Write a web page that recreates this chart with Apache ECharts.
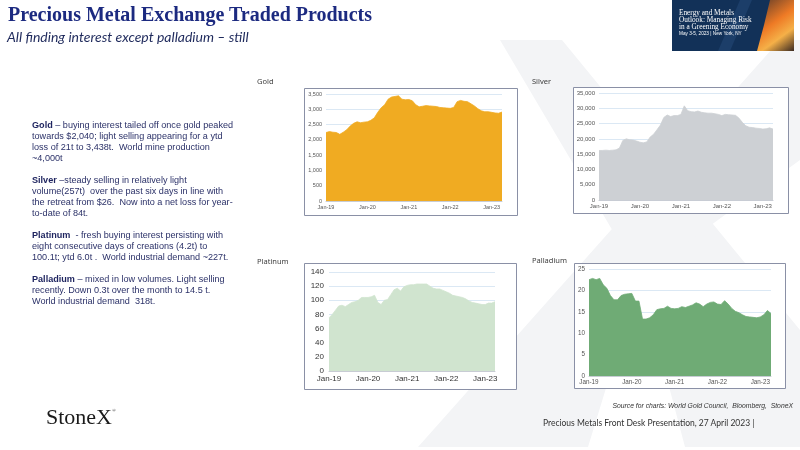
<!DOCTYPE html>
<html>
<head>
<meta charset="utf-8">
<script src="https://cdn.jsdelivr.net/npm/echarts@6/dist/echarts.min.js"></script>
<style>
    body { margin: 0; background: #fff; }
    #slide { position: relative; width: 800px; height: 450px; overflow: hidden; }
    #chart { position: absolute; left: 0; top: 0; width: 800px; height: 450px; }
    .txt { position: absolute; white-space: nowrap; }
    .title { left: 8px; top: 3px; font: bold 20px "Liberation Serif", serif; color: #1c2a80; }
    .sub { left: 7px; top: 28px; font: italic 14px Lato, sans-serif; color: #1f2a5c; }
    .body { left: 32px; top: 120px; font: 9.1px/11px "Liberation Sans", Arial, sans-serif; color: #2b3168; }
    .body b { color: #1f2560; }
    .banner { left: 679px; top: 10px; font: 7.3px/6.8px "Liberation Serif", serif; color: #fff; }
    .banner small { font: 4.7px "Liberation Sans", sans-serif; }
    .logo { left: 46px; top: 404px; font: 22px "Liberation Serif", serif; color: #1a1a1a; }
    .logo sup { font-size: 5px; vertical-align: 12px; }
    .src { right: 7px; top: 402px; font: italic 6.8px "Liberation Sans", sans-serif; color: #333; }
    .pres { left: 543px; top: 418px; font: 8.5px "Liberation Sans Narrow", Lato, sans-serif; color: #333; }
</style>
</head>
<body>
<div id="slide">
    <div id="chart"></div>
    <div class="txt title">Precious Metal Exchange Traded Products</div>
    <div class="txt sub">All finding interest except palladium – still</div>
    <div class="txt body">
        <b>Gold</b> – buying interest tailed off once gold peaked<br>
        towards $2,040; light selling appearing for a ytd<br>
        loss of 21t to 3,438t.&nbsp; World mine production<br>
        ~4,000t<br>
        <br>
        <b>Silver</b> –steady selling in relatively light<br>
        volume(257t)&nbsp; over the past six days in line with<br>
        the retreat from $26.&nbsp; Now into a net loss for year-<br>
        to-date of 84t.<br>
        <br>
        <b>Platinum</b>&nbsp; - fresh buying interest persisting with<br>
        eight consecutive days of creations (4.2t) to<br>
        100.1t; ytd 6.0t .&nbsp; World industrial demand ~227t.<br>
        <br>
        <b>Palladium</b> – mixed in low volumes. Light selling<br>
        recently. Down 0.3t over the month to 14.5 t.<br>
        World industrial demand&nbsp; 318t.
    </div>
    <div class="txt banner">
        Energy and Metals<br>Outlook: Managing Risk<br>in a Greening Economy<br><small>May 3-5, 2023 | New York, NY</small>
    </div>
    <div class="txt logo">StoneX<sup>®</sup></div>
    <div class="txt src">Source for charts: World Gold Council,&nbsp; Bloomberg,&nbsp; StoneX</div>
    <div class="txt pres">Precious Metals Front Desk Presentation, 27 April 2023 |</div>
</div>
<script>
/* 月份标签 Jan-19 ... Apr-23 */
var monNames = ['Jan','Feb','Mar','Apr','May','Jun','Jul','Aug','Sep','Oct','Nov','Dec'];
var years = ['19','20','21','22','23'];
var months = [];
years.forEach(function (y) {
    monNames.forEach(function (m) {
        if (months.length < 52) months.push(m + '-' + y);
    });
});

/* ETF 持仓（吨），按月读取 */
var gold = [2240,2270,2250,2240,2180,2250,2330,2450,2540,2590,2560,2580,
            2590,2640,2720,2900,3050,3150,3330,3400,3420,3440,3330,3310,
            3320,3280,3150,3080,3100,3120,3110,3100,3090,3060,3050,3040,
            3030,3060,3250,3290,3260,3250,3180,3110,3020,2950,2920,2920,
            2900,2880,2870,2910];
var silver = [16200,16200,16300,16200,16300,16400,17000,19500,20000,19700,19600,19300,
              18900,18700,19000,20600,21500,23000,24500,27000,27800,27300,27600,27600,
              28000,30800,29200,28900,28800,29100,28700,28500,28400,28400,28200,28000,
              27600,28000,27900,27800,27700,26800,25400,24300,23800,23700,23500,23400,
              23200,23300,23600,23200];
var platinum = [75,80,86,92,93,91,94,97,98,100,104,104,
                104,105,107,97,94,100,101,108,115,117,113,119,
                121,122,122,123,123,123,123,120,117,116,116,114,
                112,110,107,106,105,104,102,99,97,96,95,94,
                94,96,96,98];
var palladium = [22.5,22.8,22.5,22.8,21.3,20.5,18.8,17.8,17.8,18.8,19.1,19.2,
                 19.3,17.5,17.5,13.3,13.3,13.6,14.3,15.5,15.7,15.8,16.3,15.8,
                 15.7,15.8,16.2,16.0,16.3,16.6,17.1,16.8,16.2,16.8,17.2,17.3,
                 16.8,16.7,17.6,16.8,15.8,15.1,14.8,14.3,13.9,13.8,13.7,13.6,
                 13.8,14.3,15.3,14.6];

var names = ['Gold', 'Silver', 'Platinum', 'Palladium'];
var values = [gold, silver, platinum, palladium];
var colors = ['#f0ab22', '#cdd0d4', '#d0e4cf', '#6fab75'];
var yMax = [3500, 35000, 140, 25];
var yStep = [500, 5000, 20, 5];

var addCommas = function (v) {
    return String(v).replace(/\B(?=(\d{3})+(?!\d))/g, ',');
};

var myChart = echarts.init(document.getElementById('chart'));

/* 四个图的位置 */
var grids = [
    {left: 326, top: 94, width: 176, height: 107},
    {left: 599, top: 93, width: 174, height: 107},
    {left: 329, top: 272, width: 166, height: 99},
    {left: 589, top: 269, width: 182, height: 107}
];
var boxes = [
    [304, 88, 213, 127],
    [573, 87, 215, 126],
    [304, 263, 212, 126],
    [574, 263, 211, 125]
];
var titlePos = [[257, 78], [532, 78], [257, 258], [532, 257]];
var labelSize = [5.5, 6, 8, 6.3];
var labelColor = ['#555', '#555', '#333', '#555'];

var options = {
    animation: false,
    title: [],
    grid: [],
    xAxis: [],
    yAxis: [],
    series: [],
    graphic: [
        /* 背景 X 水印 */
        {type: 'polygon', z: -3, silent: true,
         shape: {points: [[500, 40], [562, 40], [800, 330], [800, 447], [685, 447], [640, 277]]},
         style: {fill: '#f3f4f6'}},
        {type: 'polygon', z: -3, silent: true,
         shape: {points: [[418, 447], [780, 40], [800, 40], [800, 160], [640, 277], [588, 447]]},
         style: {fill: '#f3f4f6'}},
        /* 右上角横幅 */
        {type: 'rect', z: -2, shape: {x: 672, y: 0, width: 122, height: 51}, style: {fill: '#123158'}},
        {type: 'polygon', z: -2, shape: {points: [[740, 0], [752, 0], [730, 51], [718, 51]]}, style: {fill: '#1c3e69'}},
        {type: 'polygon', z: -2,
         shape: {points: [[770, 0], [794, 0], [794, 51], [757, 51], [764, 25]]},
         style: {fill: new echarts.graphic.LinearGradient(0, 0, 1, 1, [
             {offset: 0, color: '#5a3a2a'},
             {offset: 0.45, color: '#ee7a25'},
             {offset: 0.7, color: '#f5b048'},
             {offset: 1, color: '#3b2a22'}
         ])}}
    ]
};

names.forEach(function (name, i) {
    options.title.push({
        text: name, left: titlePos[i][0], top: titlePos[i][1], padding: 0,
        textStyle: {fontSize: 7.5, fontWeight: 'normal', color: '#404040', fontFamily: '"Noto Sans", sans-serif'}
    });
    options.grid.push(grids[i]);
    options.graphic.push({
        type: 'rect', z: -1,
        shape: {x: boxes[i][0] + 0.5, y: boxes[i][1] + 0.5, width: boxes[i][2], height: boxes[i][3]},
        style: {fill: '#fff', stroke: '#8a90a6', lineWidth: 1}
    });
    options.xAxis.push({
        type: 'category', gridIndex: i, data: months, boundaryGap: false, z: 4,
        axisLine: {lineStyle: {color: '#c8ccd4'}},
        axisTick: {show: false},
        axisLabel: {interval: 11, fontSize: labelSize[i], color: labelColor[i], margin: i === 2 ? 4 : 3,
                    fontFamily: '"Liberation Sans", sans-serif'}
    });
    options.yAxis.push({
        type: 'value', gridIndex: i, min: 0, max: yMax[i], interval: yStep[i], z: 1,
        axisLine: {show: false},
        axisTick: {show: false},
        splitLine: {lineStyle: {color: '#dbe8f4', width: 1}},
        axisLabel: {fontSize: labelSize[i], color: labelColor[i], margin: i === 2 ? 5 : 4,
                    fontFamily: '"Liberation Sans", sans-serif', formatter: addCommas}
    });
    options.series.push({
        name: name, type: 'line', xAxisIndex: i, yAxisIndex: i,
        data: values[i], showSymbol: false, z: 3,
        lineStyle: {color: colors[i], width: 0.8},
        areaStyle: {color: colors[i], opacity: 1}
    });
});

myChart.setOption(options);
</script>
</body>
</html>
